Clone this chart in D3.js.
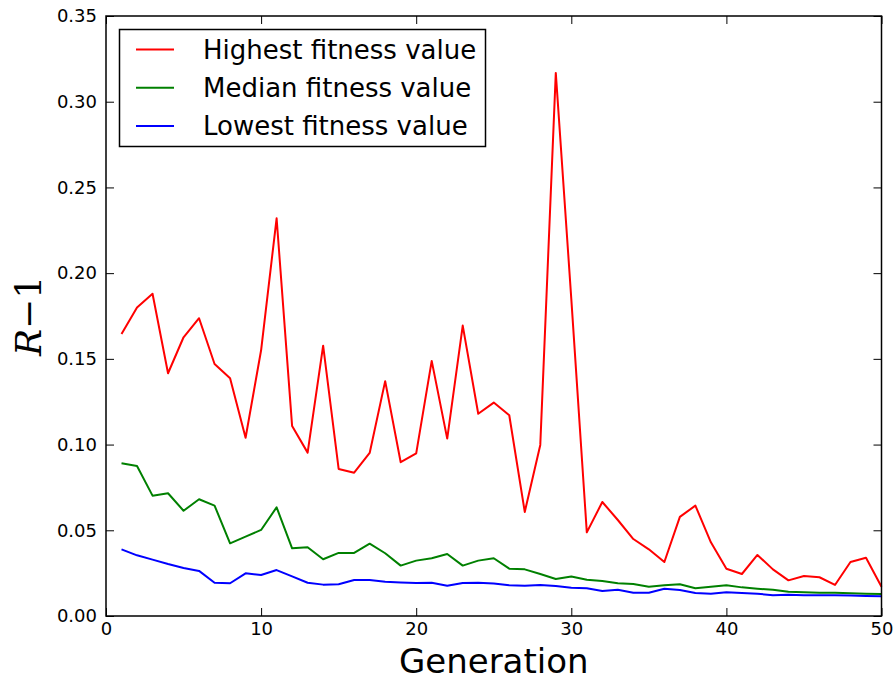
<!DOCTYPE html>
<html>
<head>
<meta charset="utf-8">
<script src="https://cdn.jsdelivr.net/npm/d3@7"></script>
<style>
  html, body { margin: 0; padding: 0; background: #fff; }
  svg { display: block; }
  text { font-family: "DejaVu Sans", sans-serif; fill: #000; }
</style>
</head>
<body>
<svg id="chart" width="896" height="681"></svg>
<script>
// generations 1..50
const generations = d3.range(1, 51);

const highest = [
  0.1645, 0.180, 0.188, 0.1416, 0.1626, 0.1737, 0.147, 0.1387, 0.104, 0.155,
  0.232, 0.1108, 0.0953, 0.1577, 0.0858, 0.0836, 0.0951, 0.137, 0.0897, 0.0949,
  0.1488, 0.1035, 0.1694, 0.118, 0.1245, 0.1171, 0.0607, 0.0998, 0.3168, 0.185,
  0.0488, 0.0665, 0.056, 0.0449, 0.0389, 0.0315, 0.0578, 0.0644, 0.043, 0.0276,
  0.0245, 0.0356, 0.0272, 0.0208, 0.0233, 0.0226, 0.0181, 0.0315, 0.034, 0.0171
];
const median = [
  0.0891, 0.0875, 0.0702, 0.0716, 0.0614, 0.0681, 0.0644, 0.0424, 0.0463, 0.0502,
  0.0634, 0.0395, 0.0401, 0.0331, 0.0368, 0.0368, 0.0422, 0.0366, 0.0294, 0.0323,
  0.0337, 0.0362, 0.0294, 0.0323, 0.0337, 0.0276, 0.0272, 0.0245, 0.0216, 0.0231,
  0.0212, 0.0204, 0.0191, 0.0187, 0.0171, 0.0179, 0.0185, 0.0162, 0.0171, 0.0179,
  0.0167, 0.0159, 0.0153, 0.0142, 0.0138, 0.0136, 0.0136, 0.0132, 0.0130, 0.0128
];
const lowest = [
  0.0389, 0.0354, 0.0329, 0.0303, 0.0280, 0.0263, 0.0194, 0.0191, 0.0249, 0.0239,
  0.0268, 0.0231, 0.0194, 0.0183, 0.0185, 0.0210, 0.0210, 0.0200, 0.0196, 0.0193,
  0.0194, 0.0177, 0.0193, 0.0194, 0.0189, 0.0179, 0.0177, 0.0181, 0.0175, 0.0165,
  0.0162, 0.0146, 0.0153, 0.0136, 0.0136, 0.0159, 0.0152, 0.0134, 0.0130, 0.0138,
  0.0134, 0.0130, 0.0121, 0.0124, 0.0121, 0.0121, 0.0121, 0.0119, 0.0117, 0.0115
];

const seriesNames = ["Highest fitness value", "Median fitness value", "Lowest fitness value"];
const seriesColors = ["#ff0000", "#008000", "#0000ff"];
const xTicks = [0, 10, 20, 30, 40, 50];
const yTicks = [0, 0.05, 0.10, 0.15, 0.20, 0.25, 0.30, 0.35];

const margin = { left: 106, right: 14.5, top: 16, bottom: 65 };
const W = 896, H = 681;

const svg = d3.select("#chart");

const x = d3.scaleLinear().domain([0, 50]).range([margin.left, W - margin.right]);
const y = d3.scaleLinear().domain([0, 0.35]).range([H - margin.bottom, margin.top]);

const tickLen = 8;

// axes: matplotlib classic style, ticks pointing inward on all four sides
let gx = svg.append("g")
  .attr("transform", "translate(0," + y(0) + ")")
  .call(d3.axisBottom(x).tickValues(xTicks).tickSize(-tickLen).tickPadding(6).tickFormat(d3.format("d")));
let gxt = svg.append("g")
  .attr("transform", "translate(0," + y(0.35) + ")")
  .call(d3.axisTop(x).tickValues(xTicks).tickSize(-tickLen).tickFormat(""));
let gy = svg.append("g")
  .attr("transform", "translate(" + x(0) + ",0)")
  .call(d3.axisLeft(y).tickValues(yTicks).tickSize(-tickLen).tickPadding(9).tickFormat(d3.format(".2f")));
let gyr = svg.append("g")
  .attr("transform", "translate(" + x(50) + ",0)")
  .call(d3.axisRight(y).tickValues(yTicks).tickSize(-tickLen).tickFormat(""));

[gx, gxt, gy, gyr].forEach(g => {
  g.select(".domain").remove();
  g.selectAll(".tick line").attr("stroke", "#000").attr("stroke-width", 1);
  g.selectAll(".tick text")
    .style("font-family", "'DejaVu Sans', sans-serif")
    .style("font-size", "18px")
    .attr("fill", "#000");
});

// lines
const line = d3.line()
  .x((d, i) => x(generations[i]))
  .y(d => y(d));

const gLines = svg.append("g").attr("class", "lines");
[highest, median, lowest].forEach((s, k) => {
  gLines.append("path")
    .datum(s)
    .attr("d", line)
    .attr("fill", "none")
    .attr("stroke", seriesColors[k])
    .attr("stroke-width", 2)
    .attr("stroke-linejoin", "round");
});

// frame
svg.append("rect")
  .attr("x", x(0)).attr("y", y(0.35))
  .attr("width", x(50) - x(0)).attr("height", y(0) - y(0.35))
  .attr("fill", "none").attr("stroke", "#000").attr("stroke-width", 1.5);

// legend
const leg = svg.append("g").attr("class", "legend");
leg.append("rect")
  .attr("x", 119.5).attr("y", 29.5).attr("width", 366).attr("height", 117)
  .attr("fill", "#fff").attr("stroke", "#000").attr("stroke-width", 1.5);
seriesNames.forEach((name, k) => {
  let ly = 49.5 + k * 38.2;
  leg.append("line")
    .attr("x1", 136).attr("x2", 174).attr("y1", ly).attr("y2", ly)
    .attr("stroke", seriesColors[k]).attr("stroke-width", 2);
  leg.append("text")
    .attr("x", 203).attr("y", ly + 9.5)
    .style("font-size", "26px")
    .text(name);
});

// axis labels
svg.append("text")
  .attr("x", (x(0) + x(50)) / 2).attr("y", 673)
  .attr("text-anchor", "middle")
  .style("font-size", "34px")
  .text("Generation");

const yl = svg.append("text")
  .attr("transform", "translate(41,316) rotate(-90)")
  .attr("text-anchor", "middle")
  .style("font-family", "'DejaVu Serif', serif")
  .style("font-size", "36px");
yl.append("tspan").style("font-style", "italic").text("R");
yl.append("tspan").text("\u22121");
</script>
</body>
</html>
